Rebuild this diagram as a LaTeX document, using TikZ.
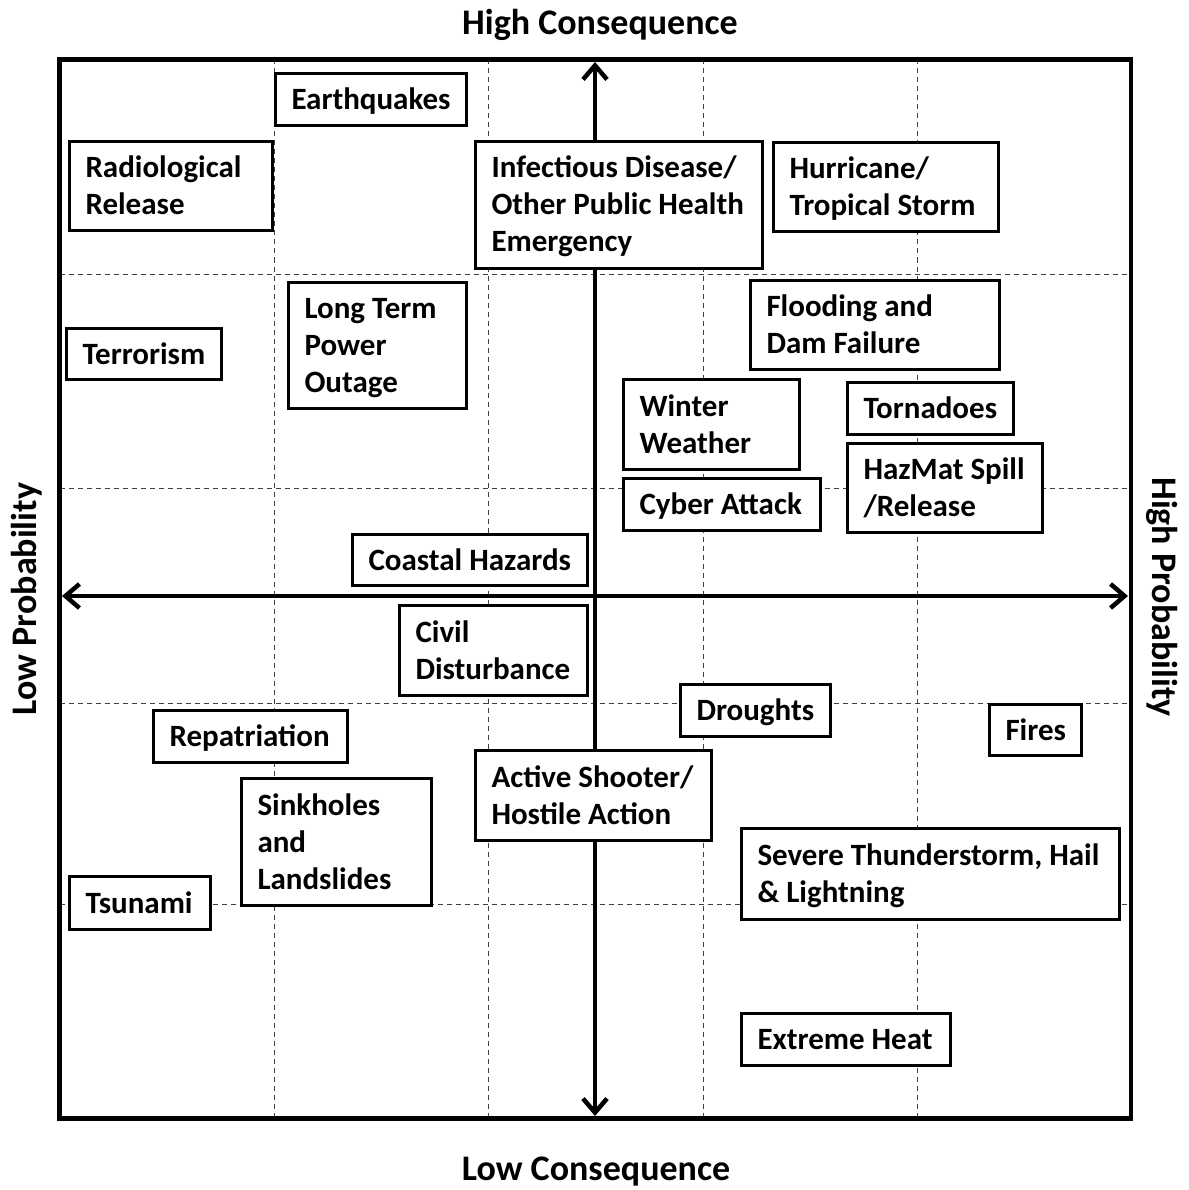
\documentclass[tikz,border=0pt]{standalone}
\usepackage{fontspec}
\setmainfont{Carlito}
\usetikzlibrary{arrows.meta}
\newcommand{\hazfont}{\bfseries\fontsize{31}{37}\selectfont}
\newcommand{\axfont}{\bfseries\fontsize{36}{40}\selectfont}

\begin{document}
\begin{tikzpicture}[x=1pt,y=-1pt,
	hazard/.style={draw, line width=3pt, fill=white, anchor=north west, align=flush left, inner xsep=16pt, inner ysep=0pt, outer sep=0pt, text height=20pt, text depth=0pt, font=\hazfont},
	tworow/.style={text depth=37pt},
	threerow/.style={text depth=74pt},
	axislabel/.style={font=\axfont, inner sep=0pt},
	gridline/.style={black!75, line width=1pt, dash pattern=on 5pt off 4pt},
	axis/.style={line width=4.5pt, {Straight Barb[length=14pt,width=24pt]}-{Straight Barb[length=14pt,width=24pt]}}]

	\useasboundingbox (0,0) rectangle (1188,1190);
	% Grid %
	\foreach \x in {274,488,703,917} \draw [gridline] (\x,59.5) -- (\x,1118.5);
	\foreach \y in {274,488,703,904} \draw [gridline] (59.5,\y) -- (1131,\y);
	% Frame %
	\draw [line width=4.5pt] (59.5,59.5) rectangle (1131,1118.5);
	% Axes %
	\coordinate (conhigh) at (595,62);
	\coordinate (conlow) at (595,1116);
	\coordinate (problow) at (62,596);
	\coordinate (probhigh) at (1128,596);
	\draw [axis] (conlow) -- (conhigh);
	\draw [axis] (problow) -- (probhigh);
	% Axis labels %
	\node [axislabel] (highcon) at (600,25) {High Consequence};
	\node [axislabel] (lowcon) at (596,1172) {Low Consequence};
	\node [axislabel, rotate=90] (lowprob) at (27,599) {Low Probability};
	\node [axislabel, rotate=-90] (highprob) at (1162,597) {High Probability};
	% Hazards %
	\node [hazard, text width=159pt, minimum height=52pt] (quake) at (275.5,73.5) {Earthquakes};
	\node [hazard, tworow, text width=171pt, minimum height=89pt] (radio) at (69.5,141.5) {Radiological\\Release};
	\node [hazard, threerow, text width=255pt, minimum height=127pt] (infect) at (475.5,141.5) {Infectious Disease/\\Other Public Health\\Emergency};
	\node [hazard, tworow, text width=193pt, minimum height=89pt] (hurricane) at (773.5,142.5) {Hurricane/\\Tropical Storm};
	\node [hazard, threerow, text width=146pt, minimum height=126pt] (power) at (288.5,282.5) {Long Term\\Power\\Outage};
	\node [hazard, text width=123pt, minimum height=51pt] (terror) at (66.5,328.5) {Terrorism};
	\node [hazard, tworow, text width=217pt, minimum height=89pt] (flood) at (750.5,280.5) {Flooding and\\Dam Failure};
	\node [hazard, tworow, text width=144pt, minimum height=90pt] (winter) at (623.5,379.5) {Winter\\Weather};
	\node [hazard, text width=134pt, minimum height=52pt] (tornado) at (847.5,382.5) {Tornadoes};
	\node [hazard, tworow, text width=163pt, minimum height=89pt] (hazmat) at (847.5,443.5) {HazMat Spill\\/Release};
	\node [hazard, text width=165pt, minimum height=52pt] (cyber) at (623.5,478.5) {Cyber Attack};
	\node [hazard, text width=203pt, minimum height=51pt] (coastal) at (352.5,534.5) {Coastal Hazards};
	\node [hazard, tworow, text width=156pt, minimum height=90pt] (civil) at (399.5,605.5) {Civil\\Disturbance};
	\node [hazard, text width=118pt, minimum height=52pt] (drought) at (680.5,684.5) {Droughts};
	\node [hazard, text width=162pt, minimum height=52pt] (repat) at (153.5,710.5) {Repatriation};
	\node [hazard, text width=60pt, minimum height=51pt] (fires) at (989.5,704.5) {Fires};
	\node [hazard, tworow, text width=204pt, minimum height=90pt] (shooter) at (475.5,750.5) {Active Shooter/\\Hostile Action};
	\node [hazard, threerow, text width=158pt, minimum height=127pt] (sink) at (241.5,778.5) {Sinkholes\\and\\Landslides};
	\node [hazard, text width=109pt, minimum height=53pt] (tsunami) at (69.5,876.5) {Tsunami};
	\node [hazard, tworow, text width=346pt, minimum height=91pt] (storm) at (741.5,828.5) {Severe Thunderstorm, Hail\\\& Lightning};
	\node [hazard, text width=177pt, minimum height=52pt] (heat) at (741.5,1013.5) {Extreme Heat};
\end{tikzpicture}
\end{document}
